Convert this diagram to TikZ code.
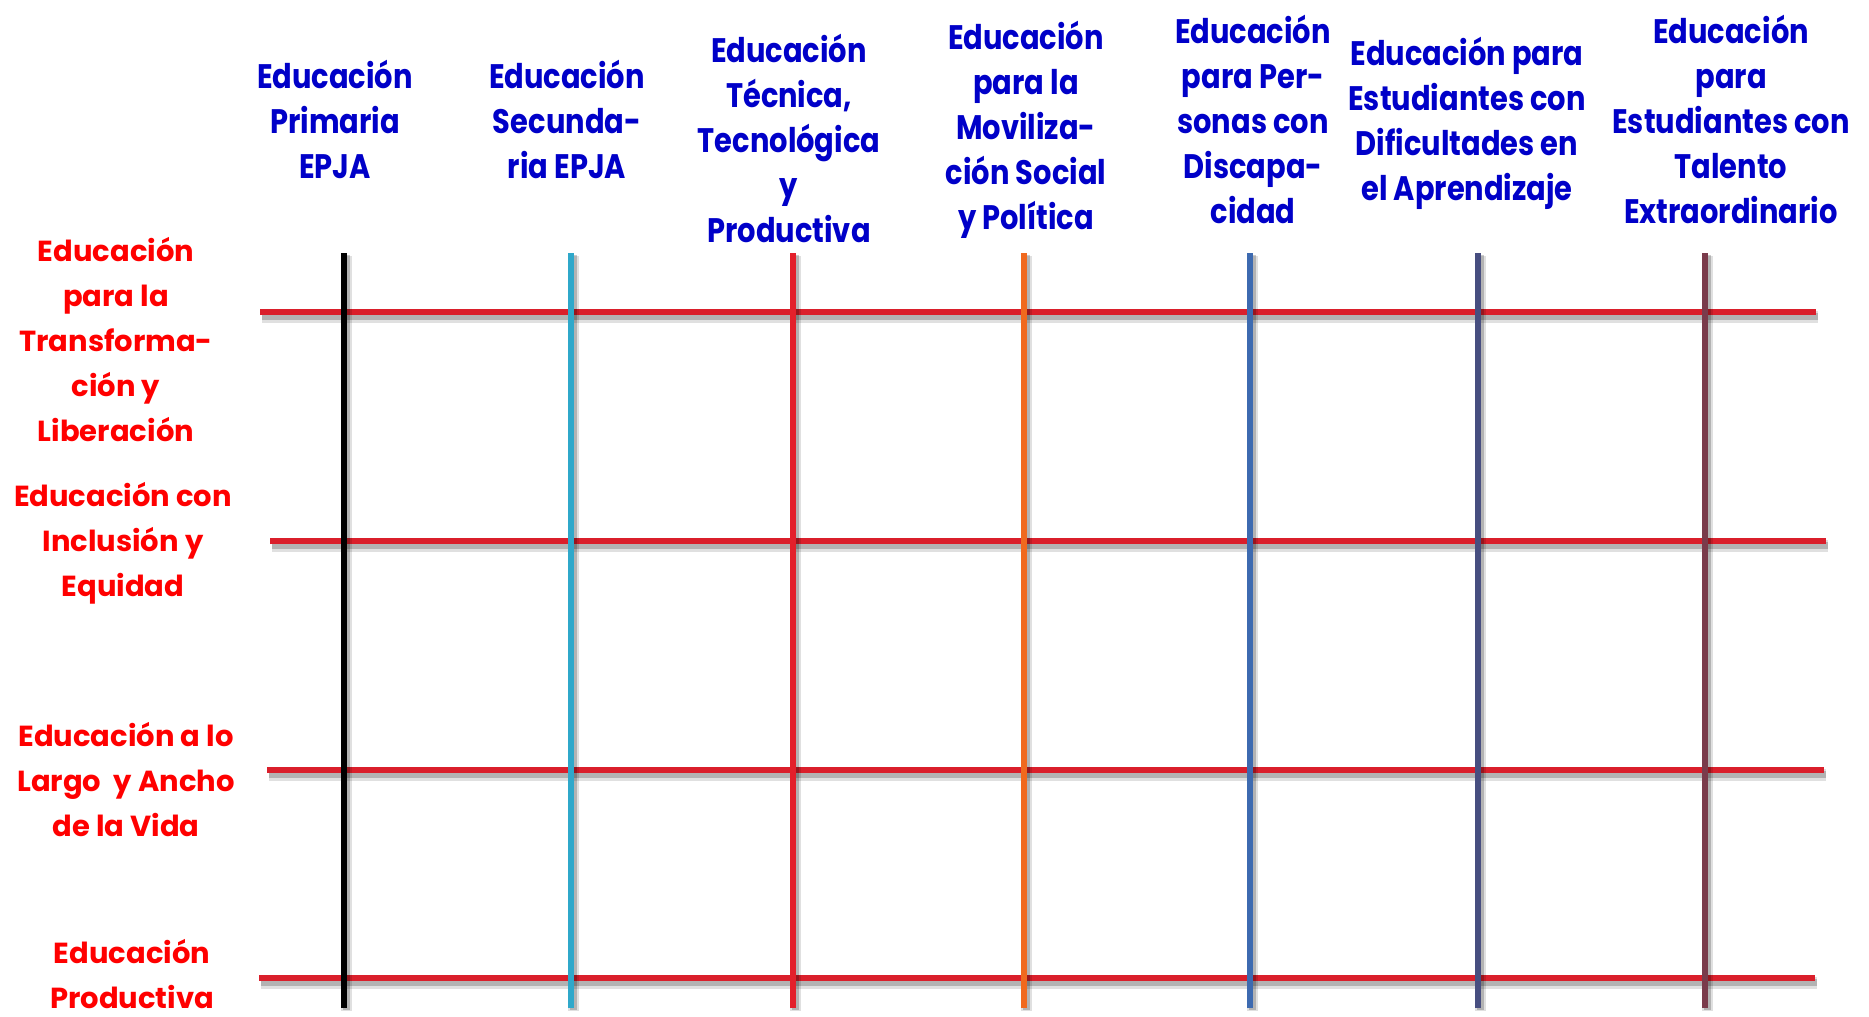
\documentclass[tikz,border=0pt]{standalone}
\usepackage{fontspec}
\usepackage{xcolor}
\usepackage{tikz}
\newfontfamily\headfont{Poppins}[FakeStretch=0.85]
\newfontfamily\labfont{Poppins}
\definecolor{gridred}{HTML}{DA1F2B}
\definecolor{headblue}{HTML}{0000C8}
\definecolor{labred}{HTML}{FF0000}
\definecolor{lnblack}{HTML}{000000}
\definecolor{lncyan}{HTML}{2FA8CA}
\definecolor{lnred}{HTML}{E3202B}
\definecolor{lnorange}{HTML}{F0691E}
\definecolor{lnblue}{HTML}{3D6AB0}
\definecolor{lnslate}{HTML}{474E80}
\definecolor{lnmaroon}{HTML}{7A3B4B}
\tikzset{
  hline/.style={draw=gridred, line width=3pt,
    preaction={draw=black, opacity=0.12, line width=6pt,
      transform canvas={shift={(1pt,-2.5pt)}}},
    preaction={draw=black, opacity=0.2, line width=3.5pt,
      transform canvas={shift={(0.8pt,-2pt)}}}},
  vline/.style={draw=#1, line width=3pt,
    preaction={draw=black, opacity=0.12, line width=5.5pt,
      transform canvas={shift={(1.2pt,-1.5pt)}}},
    preaction={draw=black, opacity=0.2, line width=3.5pt,
      transform canvas={shift={(1pt,-1pt)}}}},
  head/.style={text=headblue, align=center, inner sep=0pt,
    font=\headfont\bfseries\fontsize{17}{22.5}\selectfont},
  lab/.style={text=labred, align=center, inner sep=0pt,
    font=\labfont\bfseries\fontsize{14.5}{22.5}\selectfont}
}

\begin{document}
\begin{tikzpicture}[x=0.5pt, y=-0.5pt]
  \useasboundingbox (0,0) rectangle (1869,1017);

  % rows
  \coordinate (r1l) at (260,312);  \coordinate (r1r) at (1816,312);
  \coordinate (r2l) at (270,541);  \coordinate (r2r) at (1826,541);
  \coordinate (r3l) at (267,770);  \coordinate (r3r) at (1824,770);
  \coordinate (r4l) at (259,978);  \coordinate (r4r) at (1815,978);

  \draw[hline] (r1l) -- (r1r);
  \draw[hline] (r2l) -- (r2r);
  \draw[hline] (r3l) -- (r3r);
  \draw[hline] (r4l) -- (r4r);

  % columns
  \coordinate (c1t) at (344,253);  \coordinate (c1b) at (344,1008);
  \coordinate (c2t) at (571,253);  \coordinate (c2b) at (571,1008);
  \coordinate (c3t) at (793,253);  \coordinate (c3b) at (793,1008);
  \coordinate (c4t) at (1024,253); \coordinate (c4b) at (1024,1008);
  \coordinate (c5t) at (1250,253); \coordinate (c5b) at (1250,1008);
  \coordinate (c6t) at (1478,253); \coordinate (c6b) at (1478,1008);
  \coordinate (c7t) at (1705,253); \coordinate (c7b) at (1705,1008);

  \draw[vline=lnblack]  (c1t) -- (c1b);
  \draw[vline=lncyan]   (c2t) -- (c2b);
  \draw[vline=lnred]    (c3t) -- (c3b);
  \draw[vline=lnorange] (c4t) -- (c4b);
  \draw[vline=lnblue]   (c5t) -- (c5b);
  \draw[vline=lnslate]  (c6t) -- (c6b);
  \draw[vline=lnmaroon] (c7t) -- (c7b);

  % column heads
  \node[head] (hprim) at (335,119) {Educación\\Primaria\\EPJA};
  \node[head] (hsec) at (567,119) {Educación\\Secunda-\\ria EPJA};
  \node[head] (htec) at (789,138) {Educación\\Técnica,\\Tecnológica\\y\\Productiva};
  \node[head] (hmov) at (1026,130) {Educación\\para la\\Moviliza-\\ción Social\\y Política};
  \node[head] (hdis) at (1253,119) {Educación\\para Per-\\sonas con\\Discapa-\\cidad};
  \node[head] (hdif) at (1467,123) {Educación para\\Estudiantes con\\Dificultades en\\el Aprendizaje};
  \node[head] (htal) at (1731,119) {Educación\\para\\Estudiantes con\\Talento\\Extraordinario};

  % row labels
  \node[lab] (ltra) at (116,340) {Educación\\para la\\Transforma-\\ción y\\Liberación};
  \node[lab] (linc) at (123,543) {Educación con\\Inclusión y\\Equidad};
  \node[lab] (llar) at (126,780) {Educación a lo\\Largo\ \ y Ancho\\de la Vida};
  \node[lab] (lpro) at (132,974) {Educación\\Productiva};
\end{tikzpicture}
\end{document}
